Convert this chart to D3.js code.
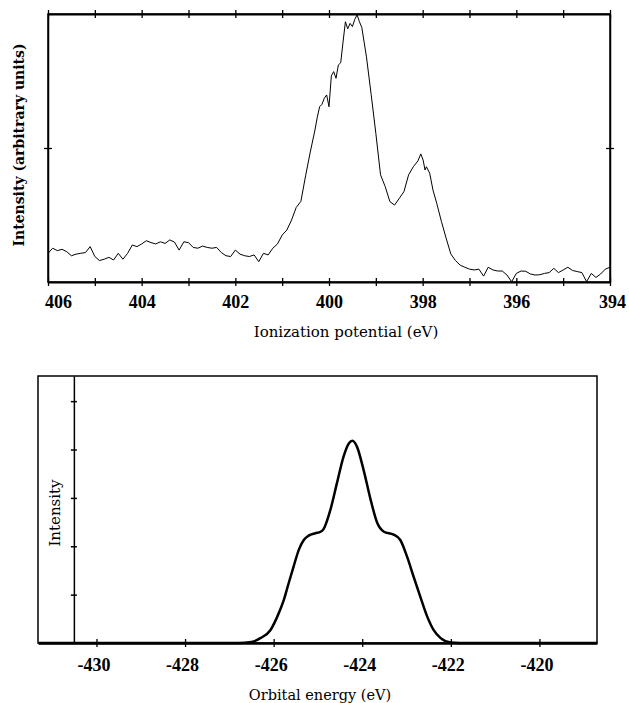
<!DOCTYPE html>
<html>
<head>
<meta charset="utf-8">
<script src="https://cdn.jsdelivr.net/npm/d3@7"></script>
<style>
  body { margin: 0; background: #fff; }
  svg { display: block; }
  .tick-label { font-family: "Liberation Serif", serif; font-weight: bold; font-size: 18px; fill: #000; }
  .title { font-family: "DejaVu Serif", serif; fill: #000; }
</style>
</head>
<body>
<div id="chart"></div>
<script>
// measured spectrum: [ionization potential (eV), intensity (% of full scale)]
const measured = [
  [406.0, 10.7], [405.9, 12.6], [405.8, 11.7], [405.7, 12.2], [405.6, 11.3], [405.5, 9.8],
  [405.4, 10.4], [405.3, 10.7], [405.2, 11.0], [405.1, 13.2], [405.0, 9.5], [404.9, 8.0],
  [404.8, 8.5], [404.7, 9.2], [404.6, 8.2], [404.5, 10.7], [404.4, 8.5], [404.3, 10.7],
  [404.2, 13.8], [404.1, 13.2], [404.0, 14.2], [403.9, 15.4], [403.8, 14.7], [403.7, 14.2],
  [403.6, 15.0], [403.5, 14.4], [403.4, 15.7], [403.3, 14.9], [403.2, 11.9], [403.1, 15.0],
  [403.0, 14.7], [402.9, 12.9], [402.8, 12.6], [402.7, 13.4], [402.6, 12.9], [402.5, 12.6],
  [402.4, 12.9], [402.3, 11.0], [402.2, 9.8], [402.1, 9.5], [402.0, 11.9], [401.9, 10.4],
  [401.8, 9.8], [401.7, 9.5], [401.6, 10.1], [401.5, 7.6], [401.4, 10.7], [401.3, 10.1],
  [401.2, 12.6], [401.1, 14.2], [401.0, 17.5], [400.9, 19.4], [400.8, 23.1], [400.7, 27.8],
  [400.6, 30.1], [400.5, 39.6], [400.4, 48.5], [400.3, 56.7], [400.25, 61.5], [400.2, 65.4],
  [400.15, 66.3], [400.1, 68.6], [400.05, 69.8], [400.0, 65.4], [399.95, 76.9], [399.9, 78.5],
  [399.85, 76.0], [399.8, 81.0], [399.75, 81.8], [399.7, 89.6], [399.65, 97.1], [399.6, 94.5],
  [399.55, 96.5], [399.5, 95.3], [399.45, 98.0], [399.4, 99.7], [399.35, 97.1], [399.3, 95.0],
  [399.2, 84.0], [399.1, 70.0], [399.0, 55.5], [398.9, 40.0], [398.8, 35.6], [398.7, 30.0],
  [398.6, 28.7], [398.5, 31.2], [398.4, 33.7], [398.3, 40.0], [398.2, 43.0], [398.1, 45.2],
  [398.04, 47.8], [397.99, 45.5], [397.95, 41.8], [397.92, 43.0], [397.85, 40.6], [397.78, 34.3],
  [397.7, 29.4], [397.6, 22.6], [397.5, 16.4], [397.4, 10.5], [397.3, 8.0], [397.2, 6.3],
  [397.1, 5.5], [397.0, 4.8], [396.9, 4.5], [396.8, 4.8], [396.7, 2.2], [396.6, 5.5],
  [396.5, 4.5], [396.4, 4.1], [396.3, 4.1], [396.2, 2.6], [396.1, 0.1], [396.0, 3.2],
  [395.9, 4.1], [395.8, 4.0], [395.7, 3.0], [395.6, 2.6], [395.5, 2.7], [395.4, 3.2],
  [395.3, 3.5], [395.2, 5.1], [395.1, 3.5], [395.0, 4.5], [394.9, 5.5], [394.8, 4.3],
  [394.7, 3.9], [394.6, 3.5], [394.5, 0.1], [394.4, 3.2], [394.3, 1.7], [394.2, 3.0],
  [394.1, 4.8], [394.0, 5.5]
];

// calculated spectrum: [orbital energy (eV), intensity (tick units)]
const calculated = [
  [-431.3, 0], [-426.8, 0], [-426.5, 0.02], [-426.3, 0.10], [-426.07, 0.27], [-425.92, 0.54],
  [-425.77, 0.89], [-425.66, 1.24], [-425.55, 1.58], [-425.43, 1.93], [-425.32, 2.13],
  [-425.21, 2.22], [-425.06, 2.27], [-424.94, 2.30], [-424.87, 2.36], [-424.72, 2.75],
  [-424.57, 3.31], [-424.42, 3.86], [-424.30, 4.13], [-424.22, 4.18], [-424.12, 4.06],
  [-423.97, 3.58], [-423.81, 2.96], [-423.66, 2.48], [-423.51, 2.30], [-423.29, 2.24],
  [-423.14, 2.13], [-422.99, 1.79], [-422.84, 1.37], [-422.69, 0.96], [-422.53, 0.54],
  [-422.39, 0.27], [-422.23, 0.10], [-422.0, 0.01], [-421.8, 0], [-418.7, 0]
];

const topTicks = [406, 405, 404, 403, 402, 401, 400, 399, 398, 397, 396, 395, 394];
const topLabels = [406, 404, 402, 400, 398, 396, 394];
const bottomTicks = [-430, -428, -426, -424, -422, -420];
const intensityTicks = [1, 2, 3, 4, 5];

const svg = d3.select("#chart").append("svg")
    .attr("width", 629)
    .attr("height", 703);

// ---------- top panel: measured ----------
const x1 = d3.scaleLinear().domain([406, 394]).range([48, 610]);
const y1 = d3.scaleLinear().domain([0, 100]).range([282, 14]);

svg.append("rect")
    .attr("x", x1(406)).attr("y", y1(100))
    .attr("width", x1(394) - x1(406)).attr("height", y1(0) - y1(100))
    .attr("fill", "none").attr("stroke", "#000").attr("stroke-width", 1.5);

// tick marks cross the axis line: half inside, half outside
const bottomAxis1 = svg.append("g")
    .attr("transform", `translate(0, ${y1(0)})`)
    .call(d3.axisBottom(x1).tickValues(topTicks).tickSize(4).tickSizeOuter(0)
        .tickFormat(d => topLabels.includes(d) ? d : ""));
bottomAxis1.select(".domain").attr("stroke-width", 2);
bottomAxis1.selectAll(".tick line").attr("y1", -4).attr("stroke-width", 1.3);
bottomAxis1.selectAll(".tick text")
    .attr("class", "tick-label").attr("y", 26).attr("dy", 0)
    .attr("dx", d => d === 406 ? 10 : (d === 394 ? 2 : 0));

const topAxis1 = svg.append("g")
    .attr("transform", `translate(0, ${y1(100)})`)
    .call(d3.axisTop(x1).tickValues(topTicks).tickSize(4).tickSizeOuter(0).tickFormat(""));
topAxis1.select(".domain").attr("stroke-width", 2);
topAxis1.selectAll(".tick line").attr("y1", 4).attr("stroke-width", 1.3);

const leftAxis1 = svg.append("g")
    .attr("transform", `translate(${x1(406)}, 0)`)
    .call(d3.axisLeft(y1).tickValues([50]).tickSize(4).tickSizeOuter(0).tickFormat(""));
leftAxis1.select(".domain").attr("stroke-width", 1.5);
leftAxis1.selectAll(".tick line").attr("x1", 4).attr("stroke-width", 1.3);

const rightAxis1 = svg.append("g")
    .attr("transform", `translate(${x1(394)}, 0)`)
    .call(d3.axisRight(y1).tickValues([50]).tickSize(4).tickSizeOuter(0).tickFormat(""));
rightAxis1.select(".domain").attr("stroke-width", 1.5);
rightAxis1.selectAll(".tick line").attr("x1", -4).attr("stroke-width", 1.3);

svg.append("path")
    .datum(measured)
    .attr("fill", "none")
    .attr("stroke", "#000")
    .attr("stroke-width", 1)
    .attr("stroke-linejoin", "round")
    .attr("d", d3.line().x(d => x1(d[0])).y(d => y1(d[1])));

svg.append("text")
    .attr("class", "title")
    .attr("font-size", 15)
    .attr("text-anchor", "middle")
    .attr("x", 346).attr("y", 337)
    .text("Ionization potential (eV)");

svg.append("text")
    .attr("class", "title")
    .attr("font-size", 14)
    .attr("font-weight", "bold")
    .attr("text-anchor", "middle")
    .attr("transform", "translate(24, 145) rotate(-90)")
    .text("Intensity (arbitrary units)");

// ---------- bottom panel: calculated ----------
const x2 = d3.scaleLinear().domain([-431.32, -418.7]).range([38, 597]);
const y2 = d3.scaleLinear().domain([0, 5.52]).range([643, 376]);

svg.append("rect")
    .attr("x", x2(-431.32)).attr("y", y2(5.52))
    .attr("width", x2(-418.7) - x2(-431.32)).attr("height", y2(0) - y2(5.52))
    .attr("fill", "none").attr("stroke", "#000").attr("stroke-width", 1.5);

const bottomAxis2 = svg.append("g")
    .attr("transform", `translate(0, ${y2(0)})`)
    .call(d3.axisBottom(x2).tickValues(bottomTicks).tickSize(4).tickSizeOuter(0)
        .tickFormat(d => String(d)));
bottomAxis2.select(".domain").attr("stroke-width", 2.5);
bottomAxis2.selectAll(".tick line").attr("y1", -4).attr("stroke-width", 1.3);
bottomAxis2.selectAll(".tick text")
    .attr("class", "tick-label").attr("y", 28).attr("dy", 0).attr("dx", -3);

const innerAxis2 = svg.append("g")
    .attr("transform", `translate(${x2(-430.51)}, 0)`)
    .call(d3.axisLeft(y2).tickValues(intensityTicks).tickSize(3).tickSizeOuter(0).tickFormat(""));
innerAxis2.select(".domain").attr("stroke-width", 1.5);
innerAxis2.selectAll(".tick line").attr("x1", 3).attr("stroke-width", 1.5);

svg.append("path")
    .datum(calculated)
    .attr("fill", "none")
    .attr("stroke", "#000")
    .attr("stroke-width", 2.5)
    .attr("d", d3.line().curve(d3.curveMonotoneX).x(d => x2(d[0])).y(d => y2(d[1])));

svg.append("text")
    .attr("class", "title")
    .attr("font-size", 15)
    .attr("text-anchor", "middle")
    .attr("transform", "translate(60, 513) rotate(-90)")
    .text("Intensity");

svg.append("text")
    .attr("class", "title")
    .attr("font-size", 14.5)
    .attr("text-anchor", "middle")
    .attr("x", 320).attr("y", 700)
    .text("Orbital energy (eV)");
</script>
</body>
</html>
